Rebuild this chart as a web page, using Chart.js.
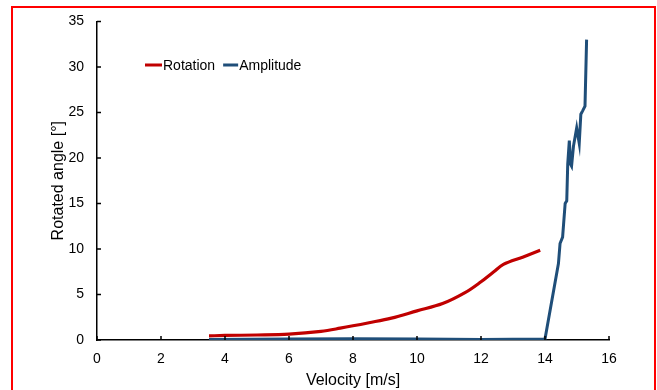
<!DOCTYPE html>
<html>
<head>
<meta charset="utf-8">
<script src="https://cdn.jsdelivr.net/npm/chart.js@4/dist/chart.umd.min.js"></script>
<style>
  html, body { margin: 0; padding: 0; background: #fff; }
  #wrap { position: relative; width: 657px; height: 390px; overflow: hidden; }
  #frame { position: absolute; left: 11px; top: 6px; width: 641px; height: 400px; border: 2px solid #ff0000; pointer-events: none; }
</style>
</head>
<body>
<div id="wrap">
  <canvas id="chart" width="657" height="390"></canvas>
  <div id="frame"></div>
</div>
<script>
// Rotation curve
const rotVel = [3.5, 4, 5, 6, 7, 7.6, 8.5, 9.2, 10, 10.8, 11.5, 12, 12.4, 12.7, 13.3, 13.85];
const rotAngle = [0.45, 0.5, 0.55, 0.65, 0.95, 1.3, 1.9, 2.4, 3.2, 4.0, 5.2, 6.4, 7.5, 8.3, 9.1, 9.85];

// Amplitude curve
const ampVel = [3.5, 6, 8, 10, 12, 14, 14.42, 14.47, 14.55, 14.63, 14.68, 14.71, 14.76, 14.8, 14.83, 14.89, 14.99, 15.07, 15.12, 15.18, 15.25, 15.3];
const ampAngle = [0.05, 0.1, 0.15, 0.1, 0.05, 0.1, 8.4, 10.6, 11.3, 15.0, 15.3, 19.3, 21.9, 19.3, 19.1, 21.3, 23.3, 21.6, 24.8, 25.2, 25.7, 33.0];

const xTicks = [0, 2, 4, 6, 8, 10, 12, 14, 16];
const yTicks = [0, 5, 10, 15, 20, 25, 30, 35];

const FONT = '"Liberation Sans", Arial, sans-serif';

function toPoints(xs, ys) {
    return xs.map((x, i) => ({ x: x, y: ys[i] }));
}

// legend drawn inside the plot area
const innerLegend = {
    id: 'innerLegend',
    afterDraw(chart) {
        const ctx = chart.ctx;
        ctx.save();
        ctx.font = '14px ' + FONT;
        ctx.textBaseline = 'middle';
        let x = 145;
        const y = 65;
        chart.data.datasets.forEach((ds, i) => {
            const len = i === 0 ? 17 : 15;
            ctx.strokeStyle = ds.borderColor;
            ctx.lineWidth = 3;
            ctx.beginPath();
            ctx.moveTo(x, y);
            ctx.lineTo(x + len, y);
            ctx.stroke();
            ctx.fillStyle = '#000';
            ctx.fillText(ds.label, x + len + 1, y + 1);
            x += len + 1 + ctx.measureText(ds.label).width + 8;
        });
        ctx.restore();
    }
};

const ctx = document.getElementById('chart').getContext('2d');
new Chart(ctx, {
    type: 'line',
    data: {
        datasets: [{
            label: 'Rotation',
            data: toPoints(rotVel, rotAngle),
            borderColor: '#c00000',
            borderWidth: 3.2,
            pointRadius: 0,
            tension: 0.35,
            fill: false
        }, {
            label: 'Amplitude',
            data: toPoints(ampVel, ampAngle),
            borderColor: '#1f4e79',
            borderWidth: 3,
            pointRadius: 0,
            tension: 0,
            fill: false
        }]
    },
    options: {
        responsive: false,
        animation: false,
        layout: { padding: { left: 45, top: 20, right: 48, bottom: 0 } },
        plugins: {
            legend: { display: false },
            tooltip: { enabled: false }
        },
        scales: {
            x: {
                type: 'linear',
                min: 0,
                max: 16,
                afterBuildTicks: s => { s.ticks = xTicks.map(v => ({ value: v })); },
                afterFit: s => { s.height = 50; },
                grid: { display: false, drawTicks: false },
                border: { color: '#000', width: 1.5 },
                ticks: {
                    color: '#000',
                    padding: 11,
                    font: { family: FONT, size: 14 }
                },
                title: {
                    display: true,
                    text: 'Velocity [m/s]',
                    color: '#000',
                    padding: { top: 4, bottom: 0 },
                    font: { family: FONT, size: 16 }
                }
            },
            y: {
                min: 0,
                max: 35,
                afterBuildTicks: s => { s.ticks = yTicks.map(v => ({ value: v })); },
                afterFit: s => { s.width = 52; },
                grid: { display: false, drawTicks: false },
                border: { color: '#000', width: 1.5 },
                ticks: {
                    color: '#000',
                    padding: 13,
                    font: { family: FONT, size: 14 }
                },
                title: {
                    display: true,
                    text: 'Rotated angle [°]',
                    color: '#000',
                    padding: { bottom: 4 },
                    font: { family: FONT, size: 16 }
                }
            }
        }
    },
    plugins: [innerLegend, {
        id: 'innerTicks',
        afterDraw(chart) {
            // short tick marks pointing into the plot
            const c = chart.ctx;
            const xs = chart.scales.x, ys = chart.scales.y;
            const area = chart.chartArea;
            c.save();
            c.strokeStyle = '#000';
            c.lineWidth = 1.5;
            c.beginPath();
            xTicks.forEach(v => {
                const px = xs.getPixelForValue(v);
                c.moveTo(px, area.bottom);
                c.lineTo(px, area.bottom - 4);
            });
            yTicks.forEach(v => {
                const py = ys.getPixelForValue(v);
                c.moveTo(area.left, py);
                c.lineTo(area.left + 4, py);
            });
            c.stroke();
            c.restore();
        }
    }]
});
</script>
</body>
</html>
